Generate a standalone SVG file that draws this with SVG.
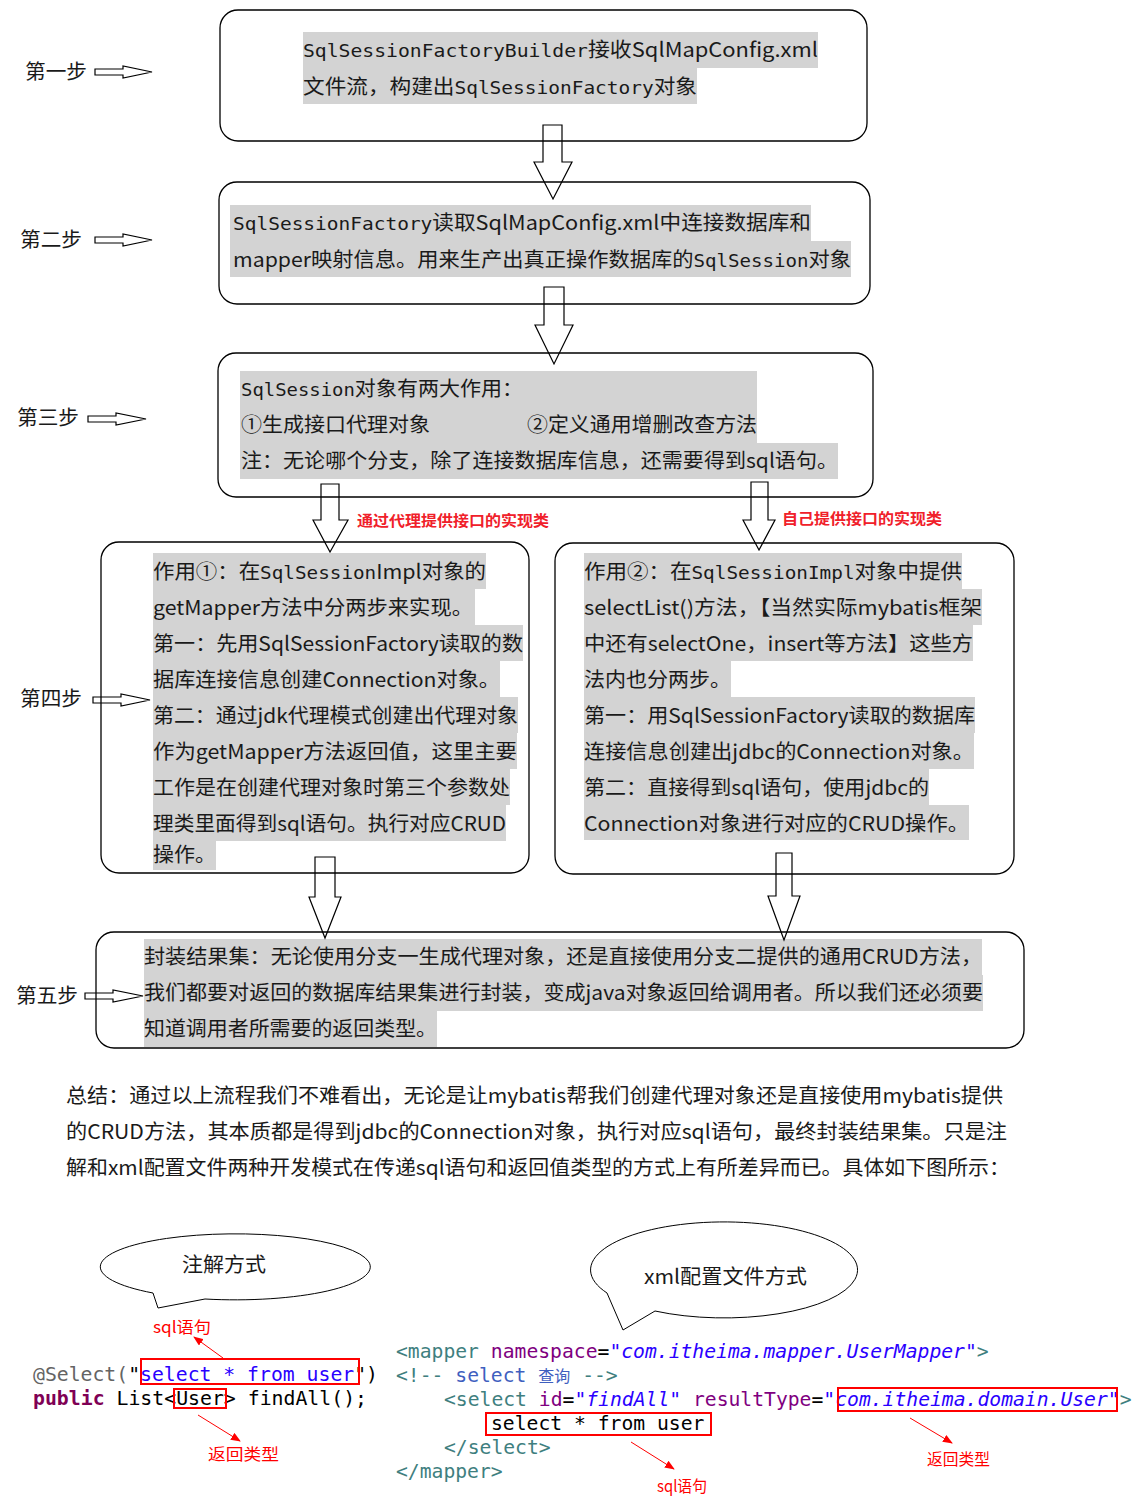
<svg xmlns="http://www.w3.org/2000/svg" width="1145" height="1505" viewBox="0 0 1145 1505">
<style>
.t{font-family:"Noto Sans CJK SC","Noto Sans",sans-serif;font-size:20px;fill:#1a1a1a}
.m{font-family:"DejaVu Sans Mono",monospace;font-size:18px}
.hl{fill:#d3d3d3}
.box{fill:none;stroke:#000;stroke-width:1.3}
.ar{fill:none;stroke:#000;stroke-width:1.2}
.red{font-family:"Noto Sans CJK SC",sans-serif;font-size:15px;font-weight:bold;fill:#f0202a}
.redn{font-family:"Noto Sans CJK SC",sans-serif;font-size:16px;fill:#ff0000}
.code{font-family:"DejaVu Sans Mono",monospace;font-size:19.7px}
.k{fill:#000}
.tag{fill:#3f7f7f}
.att{fill:#7f007f}
.str{fill:#2a00ff;font-style:italic}
.cmt{fill:#3f5fbf}
.rb{fill:none;stroke:#ff0000;stroke-width:2}
.rl{stroke:#ff0000;stroke-width:1;fill:none}
</style>
<defs>
<marker id="rh" markerWidth="10" markerHeight="8" refX="9" refY="4" orient="auto" markerUnits="userSpaceOnUse">
<path d="M0,0 L10,4 L0,8 Z" fill="#ff0000"/>
</marker>
</defs>
<rect width="1145" height="1505" fill="#fff"/>

<g id="labels">
<text class="t" x="25" y="79" textLength="62" lengthAdjust="spacingAndGlyphs">第一步</text>
<text class="t" x="20" y="247" textLength="62" lengthAdjust="spacingAndGlyphs">第二步</text>
<text class="t" x="17" y="425" textLength="62" lengthAdjust="spacingAndGlyphs">第三步</text>
<text class="t" x="20" y="706" textLength="62" lengthAdjust="spacingAndGlyphs">第四步</text>
<text class="t" x="16" y="1003" textLength="62" lengthAdjust="spacingAndGlyphs">第五步</text>
</g>

<g id="node1">
<rect class="box" x="220" y="10" width="647" height="131" rx="18"/>
<rect class="hl" x="303" y="32" width="515" height="36"/>
<rect class="hl" x="303" y="68" width="394" height="36"/>
<text class="t" x="303" y="57" textLength="515" lengthAdjust="spacingAndGlyphs"><tspan class="m">SqlSessionFactoryBuilder</tspan>接收SqlMapConfig.xml</text>
<text class="t" x="303" y="94" textLength="394" lengthAdjust="spacingAndGlyphs">文件流，构建出<tspan class="m">SqlSessionFactory</tspan>对象</text>
</g>

<g id="node2">
<rect class="box" x="219" y="182" width="651" height="122" rx="18"/>
<rect class="hl" x="230" y="205" width="581" height="36"/>
<rect class="hl" x="230" y="241" width="621" height="36"/>
<text class="t" x="233" y="230" textLength="578" lengthAdjust="spacingAndGlyphs"><tspan class="m">SqlSessionFactory</tspan>读取SqlMapConfig.xml中连接数据库和</text>
<text class="t" x="233" y="267" textLength="618" lengthAdjust="spacingAndGlyphs">mapper映射信息。用来生产出真正操作数据库的<tspan class="m">SqlSession</tspan>对象</text>
</g>

<g id="node3">
<rect class="box" x="218" y="353" width="655" height="144" rx="18"/>
<rect class="hl" x="240" y="371" width="517" height="72"/>
<rect class="hl" x="240" y="443" width="598" height="36"/>
<text class="t" x="241" y="396" textLength="282" lengthAdjust="spacingAndGlyphs"><tspan class="m">SqlSession</tspan>对象有两大作用：</text>
<text class="t" x="241" y="432" textLength="189" lengthAdjust="spacingAndGlyphs">①生成接口代理对象</text>
<text class="t" x="527" y="432" textLength="230" lengthAdjust="spacingAndGlyphs">②定义通用增删改查方法</text>
<text class="t" x="241" y="468" textLength="597" lengthAdjust="spacingAndGlyphs">注：无论哪个分支，除了连接数据库信息，还需要得到sql语句。</text>
</g>

<g id="node4a">
<rect class="box" x="101" y="542" width="428" height="331" rx="18"/>
<rect class="hl" x="153" y="553" width="333" height="36"/>
<rect class="hl" x="153" y="589" width="322" height="36"/>
<rect class="hl" x="153" y="625" width="370" height="36"/>
<rect class="hl" x="153" y="661" width="347" height="36"/>
<rect class="hl" x="153" y="697" width="365" height="36"/>
<rect class="hl" x="153" y="733" width="364" height="36"/>
<rect class="hl" x="153" y="769" width="357" height="36"/>
<rect class="hl" x="153" y="805" width="353" height="36"/>
<rect class="hl" x="153" y="841" width="63" height="29"/>
<text class="t" x="153" y="579" textLength="333" lengthAdjust="spacingAndGlyphs">作用①：在<tspan class="m">SqlSession</tspan>Impl对象的</text>
<text class="t" x="153" y="615" textLength="320" lengthAdjust="spacingAndGlyphs">getMapper方法中分两步来实现。</text>
<text class="t" x="153" y="651" textLength="370" lengthAdjust="spacingAndGlyphs">第一：先用SqlSessionFactory读取的数</text>
<text class="t" x="153" y="687" textLength="347" lengthAdjust="spacingAndGlyphs">据库连接信息创建Connection对象。</text>
<text class="t" x="153" y="723" textLength="365" lengthAdjust="spacingAndGlyphs">第二：通过jdk代理模式创建出代理对象</text>
<text class="t" x="153" y="759" textLength="364" lengthAdjust="spacingAndGlyphs">作为getMapper方法返回值，这里主要</text>
<text class="t" x="153" y="795" textLength="357" lengthAdjust="spacingAndGlyphs">工作是在创建代理对象时第三个参数处</text>
<text class="t" x="153" y="831" textLength="353" lengthAdjust="spacingAndGlyphs">理类里面得到sql语句。执行对应CRUD</text>
<text class="t" x="153" y="862" textLength="63" lengthAdjust="spacingAndGlyphs">操作。</text>
</g>

<g id="node4b">
<rect class="box" x="555" y="543" width="459" height="331" rx="18"/>
<rect class="hl" x="584" y="553" width="378" height="36"/>
<rect class="hl" x="584" y="589" width="398" height="36"/>
<rect class="hl" x="584" y="625" width="389" height="36"/>
<rect class="hl" x="584" y="661" width="147" height="36"/>
<rect class="hl" x="584" y="697" width="391" height="36"/>
<rect class="hl" x="584" y="733" width="390" height="36"/>
<rect class="hl" x="584" y="769" width="345" height="36"/>
<rect class="hl" x="584" y="805" width="385" height="35"/>
<text class="t" x="584" y="579" textLength="378" lengthAdjust="spacingAndGlyphs">作用②：在<tspan class="m">SqlSessionImpl</tspan>对象中提供</text>
<text class="t" x="584" y="615" textLength="398" lengthAdjust="spacingAndGlyphs">selectList()方法，【当然实际mybatis框架</text>
<text class="t" x="584" y="651" textLength="389" lengthAdjust="spacingAndGlyphs">中还有selectOne，insert等方法】这些方</text>
<text class="t" x="584" y="687" textLength="147" lengthAdjust="spacingAndGlyphs">法内也分两步。</text>
<text class="t" x="584" y="723" textLength="391" lengthAdjust="spacingAndGlyphs">第一：用SqlSessionFactory读取的数据库</text>
<text class="t" x="584" y="759" textLength="390" lengthAdjust="spacingAndGlyphs">连接信息创建出jdbc的Connection对象。</text>
<text class="t" x="584" y="795" textLength="345" lengthAdjust="spacingAndGlyphs">第二：直接得到sql语句，使用jdbc的</text>
<text class="t" x="584" y="831" textLength="385" lengthAdjust="spacingAndGlyphs">Connection对象进行对应的CRUD操作。</text>
</g>

<g id="node5">
<rect class="box" x="96" y="932" width="928" height="116" rx="18"/>
<rect class="hl" x="144" y="939" width="838" height="36"/>
<rect class="hl" x="144" y="975" width="839" height="36"/>
<rect class="hl" x="144" y="1011" width="293" height="36"/>
<text class="t" x="144" y="964" textLength="838" lengthAdjust="spacingAndGlyphs">封装结果集：无论使用分支一生成代理对象，还是直接使用分支二提供的通用CRUD方法，</text>
<text class="t" x="144" y="1000" textLength="839" lengthAdjust="spacingAndGlyphs">我们都要对返回的数据库结果集进行封装，变成java对象返回给调用者。所以我们还必须要</text>
<text class="t" x="144" y="1036" textLength="293" lengthAdjust="spacingAndGlyphs">知道调用者所需要的返回类型。</text>
</g>

<g id="connectors">
<polygon class="ar" points="95,69 123,69 123,66 152,72 123,78 123,75 95,75"/>
<polygon class="ar" points="95,237 123,237 123,234 152,240 123,246 123,243 95,243"/>
<polygon class="ar" points="88,416 116,416 116,413 146,419 116,425 116,422 88,422"/>
<polygon class="ar" points="93,697 121,697 121,694 150,700 121,706 121,703 93,703"/>
<polygon class="ar" points="85,993 113,993 113,990 143,996 113,1002 113,999 85,999"/>
<polygon class="ar" points="543,125 562,125 562,162 572,162 553,199 534,162 543,162"/>
<polygon class="ar" points="544,287 564,287 564,325 573,325 554,364 535,325 544,325"/>
<polygon class="ar" points="321,484 339,484 339,520 348,520 330,552 313,520 321,520"/>
<polygon class="ar" points="751,482 768,482 768,520 775,520 759,550 743,520 751,520"/>
<polygon class="ar" points="315,857 335,857 335,897 341,897 325,938 309,897 315,897"/>
<polygon class="ar" points="776,853 792,853 792,896 800,896 784,940 768,896 776,896"/>
<path class="rl" d="M223,1358 L194,1337" marker-end="url(#rh)"/>
<path class="rl" d="M198,1415 L240,1441" marker-end="url(#rh)"/>
<path class="rl" d="M631,1442 L674,1469" marker-end="url(#rh)"/>
<path class="rl" d="M910,1418 L952,1443" marker-end="url(#rh)"/>
</g>

<g id="edge-labels">
<text class="red" x="357" y="526" textLength="192" lengthAdjust="spacingAndGlyphs">通过代理提供接口的实现类</text>
<text class="red" x="782" y="524" textLength="160" lengthAdjust="spacingAndGlyphs">自己提供接口的实现类</text>
</g>

<g id="summary">
<text class="t" x="66" y="1103" textLength="937" lengthAdjust="spacingAndGlyphs">总结：通过以上流程我们不难看出，无论是让mybatis帮我们创建代理对象还是直接使用mybatis提供</text>
<text class="t" x="66" y="1139" textLength="941" lengthAdjust="spacingAndGlyphs">的CRUD方法，其本质都是得到jdbc的Connection对象，执行对应sql语句，最终封装结果集。只是注</text>
<text class="t" x="66" y="1175" textLength="944" lengthAdjust="spacingAndGlyphs">解和xml配置文件两种开发模式在传递sql语句和返回值类型的方式上有所差异而已。具体如下图所示：</text>
</g>

<g id="callout1">
<path d="M153,1293 L158,1308 L205,1299 A135,33 0 1 0 153,1293 Z" fill="#fff" stroke="#000" stroke-width="1"/>
<text class="t" x="182" y="1272" textLength="84" lengthAdjust="spacingAndGlyphs">注解方式</text>
</g>

<g id="callout2">
<path d="M607,1293 L623,1330 L655,1311 A133.5,48 0 1 0 607,1293 Z" fill="#fff" stroke="#000" stroke-width="1"/>
<text class="t" x="644" y="1284" textLength="163" lengthAdjust="spacingAndGlyphs">xml配置文件方式</text>
</g>

<g id="annotation-code">
<text class="code k" x="33" y="1381" xml:space="preserve" textLength="345" lengthAdjust="spacingAndGlyphs"><tspan style="fill:#646464">@Select(</tspan>"<tspan style="fill:#2a00ff">select * from user</tspan>")</text>
<text class="code k" x="33" y="1405" xml:space="preserve" textLength="334" lengthAdjust="spacingAndGlyphs"><tspan style="fill:#7f0055;font-weight:bold">public</tspan> List&lt;User&gt; findAll();</text>
<rect class="rb" x="141" y="1359" width="218" height="25"/>
<rect class="rb" x="174" y="1389" width="52" height="19"/>
<text class="redn" x="153" y="1333" textLength="58" lengthAdjust="spacingAndGlyphs">sql语句</text>
<text class="redn" x="208" y="1460" textLength="71" lengthAdjust="spacingAndGlyphs">返回类型</text>
</g>

<g id="xml-code">
<text class="code k" x="396" y="1358" xml:space="preserve"><tspan class="tag">&lt;mapper</tspan><tspan class="att"> namespace</tspan>=<tspan class="str">"com.itheima.mapper.UserMapper"</tspan><tspan class="tag">&gt;</tspan></text>
<text class="code cmt" x="396" y="1382" xml:space="preserve"><tspan class="tag">&lt;!--</tspan> select <tspan font-family="Noto Sans CJK SC" font-size="16">查询</tspan> <tspan class="tag">--&gt;</tspan></text>
<text class="code k" x="444" y="1406" xml:space="preserve"><tspan class="tag">&lt;select</tspan><tspan class="att"> id</tspan>=<tspan class="str">"findAll"</tspan><tspan class="att"> resultType</tspan>=<tspan class="str">"com.itheima.domain.User"</tspan><tspan class="tag">&gt;</tspan></text>
<text class="code k" x="491" y="1430">select * from user</text>
<text class="code tag" x="444" y="1454">&lt;/select&gt;</text>
<text class="code tag" x="396" y="1478">&lt;/mapper&gt;</text>
<rect class="rb" x="486" y="1413" width="225" height="22"/>
<rect class="rb" x="838" y="1388" width="279" height="23"/>
<text class="redn" x="657" y="1492" textLength="50" lengthAdjust="spacingAndGlyphs">sql语句</text>
<text class="redn" x="927" y="1465" textLength="63" lengthAdjust="spacingAndGlyphs">返回类型</text>
</g>
</svg>
